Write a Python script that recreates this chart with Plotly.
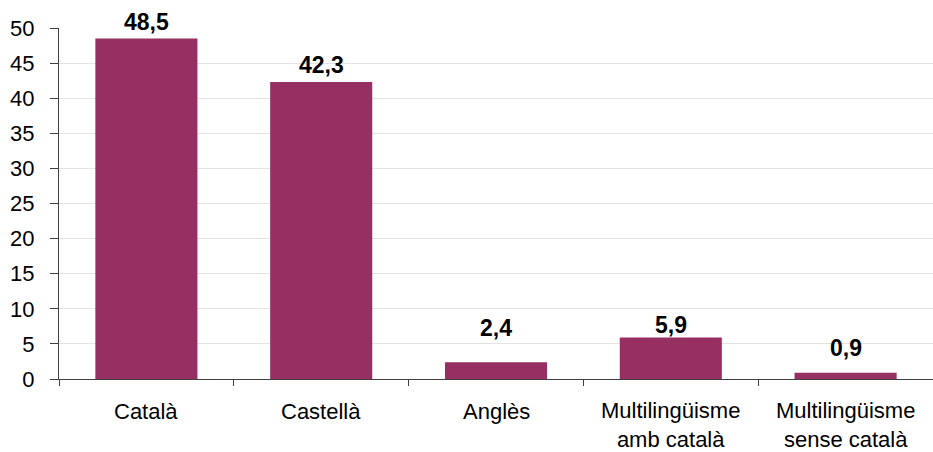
import plotly.graph_objects as go

categories = ["Català", "Castellà", "Anglès", "Multilingüisme\namb català", "Multilingüisme\nsense català"]
values = [48.5, 42.3, 2.4, 5.9, 0.9]
value_labels = ["48,5", "42,3", "2,4", "5,9", "0,9"]
label_shift_px = [17, 17, 34, 13, 25]  # label centre offset above bar top (pixels)
y_ticks = [0, 5, 10, 15, 20, 25, 30, 35, 40, 45, 50]

bar_color = "#973062"
axis_color = "#404040"
font_family = "Liberation Sans, Arial, sans-serif"
cat_font_size = 22
cat_first_line_px = 32            # first line centre below the axis
cat_line_step_px = 1.3 * cat_font_size

fig = go.Figure()
fig.add_trace(go.Bar(
    x=categories,
    y=values,
    marker=dict(color=bar_color, line=dict(width=0)),
    hoverinfo="skip",
))

for cat, v, lab, sh in zip(categories, values, value_labels, label_shift_px):
    fig.add_annotation(
        x=cat, y=v, text=f"<b>{lab}</b>", showarrow=False,
        yanchor="middle", yshift=sh,
        font=dict(family=font_family, size=23, color="#000000"),
    )

# category labels below the axis
for cat in categories:
    lines = cat.split("\n")
    n = len(lines)
    fig.add_annotation(
        x=cat, y=0, text="<br>".join(lines), showarrow=False,
        yanchor="middle", align="center",
        yshift=-(cat_first_line_px + (n - 1) * cat_line_step_px / 2),
        font=dict(family=font_family, size=cat_font_size, color="#000000"),
    )

fig.update_layout(
    width=933, height=452,
    margin=dict(l=59, r=0, t=28, b=73),
    paper_bgcolor="white", plot_bgcolor="white",
    bargap=0.416,
    showlegend=False,
    font=dict(family=font_family, size=22, color="#000000"),
)
fig.update_xaxes(
    showline=True, linecolor=axis_color, linewidth=1,
    ticks="outside", tickson="boundaries", ticklen=6, tickcolor=axis_color,
    showgrid=False, showticklabels=False,
)
fig.update_yaxes(
    range=[0, 50], tickvals=y_ticks,
    showline=True, linecolor=axis_color, linewidth=1,
    ticks="outside", ticklen=8, tickcolor=axis_color,
    showgrid=True, gridcolor="#e3e3e3", gridwidth=1,
    zeroline=False,
    tickfont=dict(family=font_family, size=22, color="#000000"),
    ticklabelstandoff=11,
)

fig.write_html("out.html")
